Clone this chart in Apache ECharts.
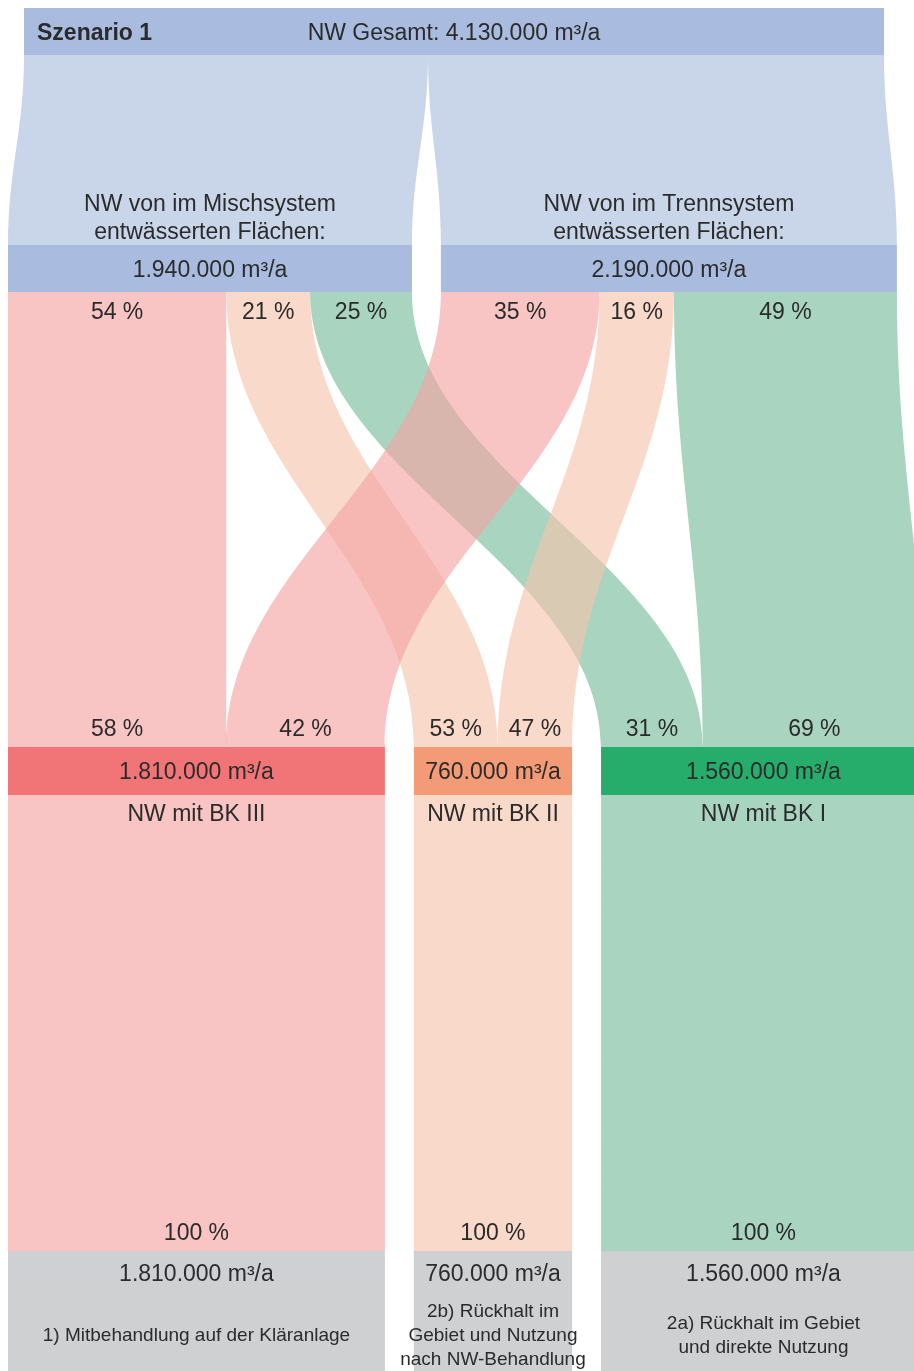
<!DOCTYPE html>
<html>
<head>
<meta charset="utf-8">
<title>Szenario 1</title>
<script src="https://cdn.jsdelivr.net/npm/echarts@6/dist/echarts.min.js"></script>
<style>
  html, body { margin: 0; padding: 0; background: #fff; }
  #chart { width: 914px; height: 1371px; }
</style>
</head>
<body>
<div id="chart"></div>
<script>
// Knoten, Werte in 1.000 m³/a
const scenarioTitle = 'Szenario 1';
const nodeLevels = [0, 1, 1, 2, 2, 2, 3, 3, 3];
const nodeValues = [4130, 1940, 2190, 1810, 760, 1560, 1810, 760, 1560];
const nodeTitles = [
  'NW Gesamt',
  'NW von im Mischsystem\nentwässerten Flächen:',
  'NW von im Trennsystem\nentwässerten Flächen:',
  'NW mit BK III',
  'NW mit BK II',
  'NW mit BK I',
  '1) Mitbehandlung auf der Kläranlage',
  '2b) Rückhalt im\nGebiet und Nutzung\nnach NW-Behandlung',
  '2a) Rückhalt im Gebiet\nund direkte Nutzung'
];

// Flüsse (Quelle -> Ziel), Werte in 1.000 m³/a
const linkSources = [0, 0, 1, 1, 1, 2, 2, 2, 3, 4, 5];
const linkTargets = [1, 2, 3, 4, 5, 3, 4, 5, 6, 7, 8];
const linkValues = [1940, 2190, 1048, 403, 489, 762, 357, 1071, 1810, 760, 1560];

// Layout
const GAP = 139;
const LEVEL_OFFSET = [77, 0, 0, 0];
const ROWS = [[8, 55], [245, 292], [747, 795], [1251, 1371]];
const X_MAX = 4351;
const CURVE = 0.4;
const FONT = '"Liberation Sans", Arial, sans-serif';
const TEXT = '#2b2b2b';
const barColors = ['#a9bbde', '#a9bbde', '#a9bbde', '#f17476', '#f39b76', '#27ad6b', '#cfd0d2', '#cfd0d2', '#cfd0d2'];
const flowColors = ['#c9d6ea', '#c9d6ea', '#c9d6ea',
  'rgba(244,161,161,0.63)', 'rgba(245,195,171,0.63)', 'rgba(118,188,155,0.63)'];

// Knotenpositionen je Ebene
const nodeX = [];
const cursor = {};
nodeValues.forEach((v, i) => {
  const lv = nodeLevels[i];
  const x0 = cursor[lv] == null ? LEVEL_OFFSET[lv] : cursor[lv] + GAP;
  nodeX.push([x0, x0 + v]);
  cursor[lv] = x0 + v;
});
const outPos = nodeX.map(n => n[0]);
const inPos = nodeX.map(n => n[0]);
const linkX = linkValues.map((v, i) => {
  const s = linkSources[i], t = linkTargets[i];
  const a = outPos[s], b = inPos[t];
  outPos[s] += v;
  inPos[t] += v;
  return [a, a + v, b, b + v];
});

const fmt = v => String(v * 1000).replace(/\B(?=(\d{3})+(?!\d))/g, '.') + ' m³/a';
const pct = (v, total) => Math.round(v / total * 100) + ' %';

function label(x, y, text, extra) {
  return {
    type: 'text', x: x, y: y + 2, z2: 10,
    style: Object.assign({
      text: text, fill: TEXT, fontSize: 23, fontFamily: FONT,
      align: 'center', verticalAlign: 'middle'
    }, extra || {})
  };
}

function renderLink(params, api) {
  const i = params.dataIndex;
  const s = linkSources[i], t = linkTargets[i];
  const [a0, a1, b0, b1] = linkX[i];
  const y0 = ROWS[nodeLevels[s]][1], y1 = ROWS[nodeLevels[t]][0];
  const A0 = api.coord([a0, y0]), A1 = api.coord([a1, y0]);
  const B0 = api.coord([b0, y1]), B1 = api.coord([b1, y1]);
  const h = B0[1] - A0[1];
  const ya = A0[1] + h * CURVE, yb = B0[1] - h * CURVE;
  const d = 'M' + A0[0] + ',' + A0[1] +
    ' C' + A0[0] + ',' + ya + ' ' + B0[0] + ',' + yb + ' ' + B0[0] + ',' + B0[1] +
    ' L' + B1[0] + ',' + B1[1] +
    ' C' + B1[0] + ',' + yb + ' ' + A1[0] + ',' + ya + ' ' + A1[0] + ',' + A1[1] + ' Z';
  const color = nodeLevels[t] === 3 ? flowColors[s] : flowColors[t];
  const children = [{ type: 'path', shape: { pathData: d }, style: { fill: color } }];
  const v = linkValues[i];
  if (nodeLevels[s] === 1) {
    children.push(label((A0[0] + A1[0]) / 2, A0[1] + 19, pct(v, nodeValues[s])));
  }
  if (nodeLevels[t] >= 2) {
    children.push(label((B0[0] + B1[0]) / 2, B0[1] - 19, pct(v, nodeValues[t])));
  }
  return { type: 'group', children: children };
}

function renderNode(params, api) {
  const i = params.dataIndex;
  const lv = nodeLevels[i];
  const tl = api.coord([nodeX[i][0], ROWS[lv][0]]);
  const br = api.coord([nodeX[i][1], ROWS[lv][1]]);
  const cx = (tl[0] + br[0]) / 2;
  const children = [{
    type: 'rect',
    shape: { x: tl[0], y: tl[1], width: br[0] - tl[0], height: br[1] - tl[1] },
    style: { fill: barColors[i] }
  }];
  const vol = fmt(nodeValues[i]);
  if (lv === 0) {
    const my = (tl[1] + br[1]) / 2;
    children.push(label(tl[0] + 13, my, scenarioTitle, { align: 'left', fontWeight: 'bold' }));
    children.push(label(cx, my, nodeTitles[i] + ': ' + vol));
  } else if (lv === 1) {
    children.push(label(cx, tl[1], nodeTitles[i], { verticalAlign: 'bottom', lineHeight: 28 }));
    children.push(label(cx, (tl[1] + br[1]) / 2, vol));
  } else if (lv === 2) {
    children.push(label(cx, (tl[1] + br[1]) / 2, vol));
    children.push(label(cx, br[1] + 18, nodeTitles[i]));
  } else {
    children.push(label(cx, tl[1] + 22, vol));
    children.push(label(cx, tl[1] + 83, nodeTitles[i], { fontSize: 19, lineHeight: 24 }));
  }
  return { type: 'group', children: children };
}

const chart = echarts.init(document.getElementById('chart'));
chart.setOption({
  animation: false,
  grid: { left: 8, right: 0, top: 0, bottom: 0 },
  xAxis: { type: 'value', min: 0, max: X_MAX, show: false },
  yAxis: { type: 'value', min: 0, max: 1371, inverse: true, show: false },
  series: [
    {
      type: 'custom', silent: true, clip: false, z: 1,
      renderItem: renderLink,
      data: linkValues.map((v, i) => [i, v])
    },
    {
      type: 'custom', silent: true, clip: false, z: 2,
      renderItem: renderNode,
      data: nodeValues.map((v, i) => [i, v])
    }
  ]
});
</script>
</body>
</html>
